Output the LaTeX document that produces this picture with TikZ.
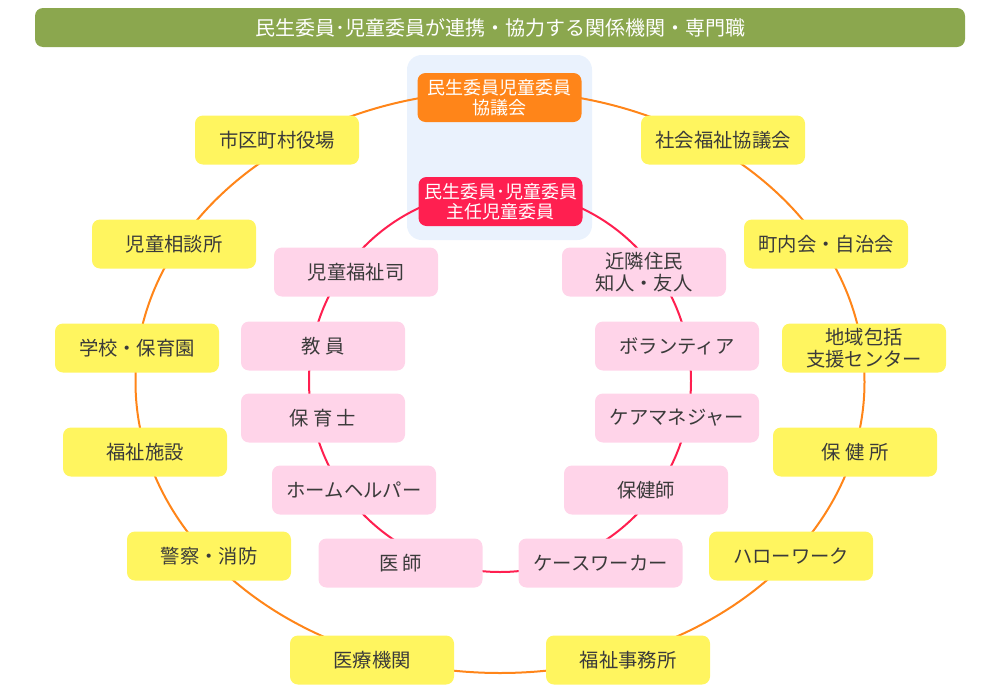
\documentclass[tikz,border=0pt]{standalone}
\usepackage{fontspec}
\setmainfont{Noto Sans CJK JP}
\usetikzlibrary{backgrounds}

\definecolor{barGreen}{RGB}{139,167,78}
\definecolor{panelBlue}{RGB}{234,242,253}
\definecolor{boxOrange}{RGB}{255,133,25}
\definecolor{boxRed}{RGB}{255,31,80}
\definecolor{boxYellow}{RGB}{255,245,95}
\definecolor{boxPink}{RGB}{255,212,233}
\definecolor{ink}{RGB}{58,58,58}

\begin{document}
\begin{tikzpicture}[
    x=0.75pt, y=-0.75pt,
    font=\fontsize{14.5}{16.5}\selectfont,
    box/.style        = {rounded corners=6pt, minimum width=123pt, minimum height=36.75pt,
                         inner sep=0pt, align=center},
    outer-box/.style  = {box, fill=boxYellow, text=ink},
    inner-box/.style  = {box, fill=boxPink, text=ink},
    core-box/.style   = {box, text=white, font=\fontsize{13.5}{15}\selectfont},
    outer-ring/.style = {boxOrange, line width=1.5pt},
    inner-ring/.style = {boxRed, line width=1.5pt}
  ]
\useasboundingbox (0,0) rectangle (1000,700);

% =========================================================
% Title bar
% =========================================================
\node[fill=barGreen, rounded corners=6pt, minimum width=697.5pt, minimum height=29.25pt,
      inner sep=0pt, text=white, font=\fontsize{15}{16}\selectfont]
  (title) at (500,27.5) {民生委員･児童委員が連携・協力する関係機関・専門職};

% Light blue panel behind the two central boxes
\fill[panelBlue, rounded corners=11pt] (407,55) rectangle (592,240);

% =========================================================
% Rings (outer: organisations, inner: people)
% =========================================================
\coordinate (hub) at (500,382);
\draw[outer-ring] (hub) ellipse [x radius=364.5, y radius=291];
\draw[inner-ring] (500,381) circle [radius=191];

% =========================================================
% Central boxes
% =========================================================
\node[core-box, fill=boxOrange] (council) at (499.5,97.5) {民生委員児童委員\\協議会};
\node[core-box, fill=boxRed]    (chief)   at (500.5,201.5) {民生委員･児童委員\\主任児童委員};

% =========================================================
% Outer ring -- related organisations
% =========================================================
\node[outer-box] (cityoffice)    at (277,140) {市区町村役場};
\node[outer-box] (socwelfare)    at (723,140) {社会福祉協議会};
\node[outer-box] (childguidance) at (174,244) {児童相談所};
\node[outer-box] (residents)     at (826,244) {町内会・自治会};
\node[outer-box] (school)        at (137,348) {学校・保育園};
\node[outer-box] (community)     at (864,348) {地域包括\\支援センター};
\node[outer-box] (facility)      at (145,452) {福祉施設};
\node[outer-box] (healthcenter)  at (855,452) {保 健 所};
\node[outer-box] (police)        at (209,556) {警察・消防};
\node[outer-box] (hellowork)     at (791,556) {ハローワーク};
\node[outer-box] (hospital)      at (372,660) {医療機関};
\node[outer-box] (welfareoffice) at (628,660) {福祉事務所};

% =========================================================
% Inner ring -- professionals and neighbours
% =========================================================
\node[inner-box] (childworker) at (356,272) {児童福祉司};
\node[inner-box] (neighbour)   at (644,272) {近隣住民\\知人・友人};
\node[inner-box] (teacher)     at (323,346) {教 員};
\node[inner-box] (volunteer)   at (677,346) {ボランティア};
\node[inner-box] (nursery)     at (323,418) {保 育 士};
\node[inner-box] (caremanager) at (677,418) {ケアマネジャー};
\node[inner-box] (homehelper)  at (354,490) {ホームヘルパー};
\node[inner-box] (nurse)       at (646,490) {保健師};
\node[inner-box] (doctor)      at (400.5,563) {医 師};
\node[inner-box] (caseworker)  at (600.5,563) {ケースワーカー};

\end{tikzpicture}
\end{document}
